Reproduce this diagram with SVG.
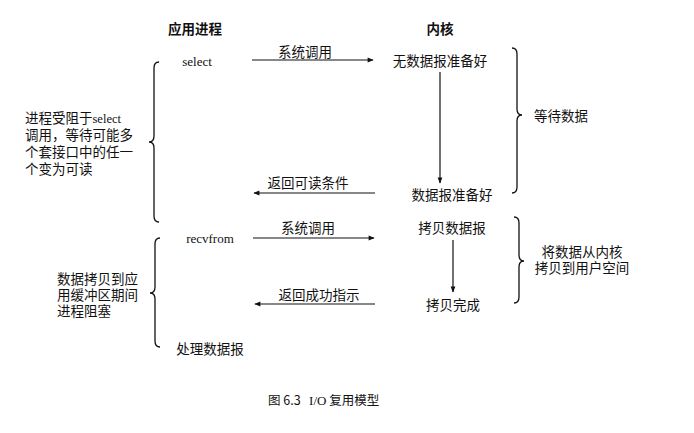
<svg xmlns="http://www.w3.org/2000/svg" width="694" height="433" viewBox="0 0 694 433">
<style>
.cn{font-family:"Noto Sans CJK SC","Liberation Serif",serif;font-size:13.5px;fill:#111;}
.hd{font-weight:bold;}
.lat{font-family:"Liberation Serif","Noto Sans CJK SC",serif;font-size:13px;fill:#111;}
.ln{stroke:#111;stroke-width:1.2;fill:none;}
.br{stroke:#111;stroke-width:1.3;fill:none;}
</style>
<defs>
<marker id="ah" viewBox="0 0 10 10" refX="9" refY="5" markerWidth="7" markerHeight="6" orient="auto" markerUnits="userSpaceOnUse">
<path d="M0,1 L10,5 L0,9 z" fill="#111"/>
</marker>
</defs>
<rect width="694" height="433" fill="#fff"/>
<g id="hdr-app"><text class="cn hd" x="195" y="34" text-anchor="middle">应用进程</text></g>
<g id="hdr-kernel"><text class="cn hd" x="440" y="34" text-anchor="middle">内核</text></g>
<g id="n-select"><text class="lat" x="197" y="66" text-anchor="middle">select</text></g>
<g id="n-nodata"><text class="cn" x="440" y="66" text-anchor="middle">无数据报准备好</text></g>
<g id="n-ready"><text class="cn" x="452" y="200" text-anchor="middle">数据报准备好</text></g>
<g id="n-recvfrom"><text class="lat" x="210" y="243" text-anchor="middle">recvfrom</text></g>
<g id="n-copy"><text class="cn" x="452" y="233" text-anchor="middle">拷贝数据报</text></g>
<g id="n-done"><text class="cn" x="453" y="310" text-anchor="middle">拷贝完成</text></g>
<g id="n-process"><text class="cn" x="210" y="354" text-anchor="middle">处理数据报</text></g>
<g id="note-block1">
<text class="cn" x="25" y="123">进程受阻于<tspan class="lat" style="font-size:12.5px">select</tspan></text>
<text class="cn" x="25" y="140">调用，等待可能多</text>
<text class="cn" x="25" y="157">个套接口中的任一</text>
<text class="cn" x="25" y="174">个变为可读</text>
</g>
<g id="note-block2">
<text class="cn" x="57" y="284">数据拷贝到应</text>
<text class="cn" x="57" y="300">用缓冲区期间</text>
<text class="cn" x="57" y="316">进程阻塞</text>
</g>
<g id="note-wait"><text class="cn" x="561" y="121" text-anchor="middle">等待数据</text></g>
<g id="note-copy">
<text class="cn" x="582" y="257" text-anchor="middle">将数据从内核</text>
<text class="cn" x="582" y="273" text-anchor="middle">拷贝到用户空间</text>
</g>
<g id="braces">
<path class="br" d="M159,62 Q154,62 154,68 L154,136 Q154,142 149,142 Q154,142 154,148 L154,216 Q154,222 159,222"/>
<path class="br" d="M160,238 Q155,238 155,244 L155,287 Q155,293 150,293 Q155,293 155,299 L155,341 Q155,347 160,347"/>
<path class="br" d="M512,48 Q517,48 517,54 L517,109 Q517,115 522,115 Q517,115 517,121 L517,187 Q517,193 512,193"/>
<path class="br" d="M514,217 Q519,217 519,223 L519,255 Q519,261 524,261 Q519,261 519,267 L519,297 Q519,303 514,303"/>
</g>
<g id="connectors">
<line class="ln" x1="252" y1="60" x2="373" y2="60" marker-end="url(#ah)"/>
<text class="cn" x="305" y="57" text-anchor="middle">系统调用</text>
<line class="ln" x1="440" y1="72" x2="440" y2="183" marker-end="url(#ah)"/>
<line class="ln" x1="375" y1="193" x2="254" y2="193" marker-end="url(#ah)"/>
<text class="cn" x="308" y="188" text-anchor="middle">返回可读条件</text>
<line class="ln" x1="253" y1="238" x2="374" y2="238" marker-end="url(#ah)"/>
<text class="cn" x="308" y="233" text-anchor="middle">系统调用</text>
<line class="ln" x1="453" y1="240" x2="453" y2="292" marker-end="url(#ah)"/>
<line class="ln" x1="375" y1="304" x2="255" y2="304" marker-end="url(#ah)"/>
<text class="cn" x="319" y="300" text-anchor="middle">返回成功指示</text>
</g>
<g id="caption"><text class="cn" x="268" y="405" style="font-size:12.5px" xml:space="preserve">图 6.3   <tspan class="lat" style="font-size:13px">I/O</tspan> 复用模型</text></g>
</svg>
